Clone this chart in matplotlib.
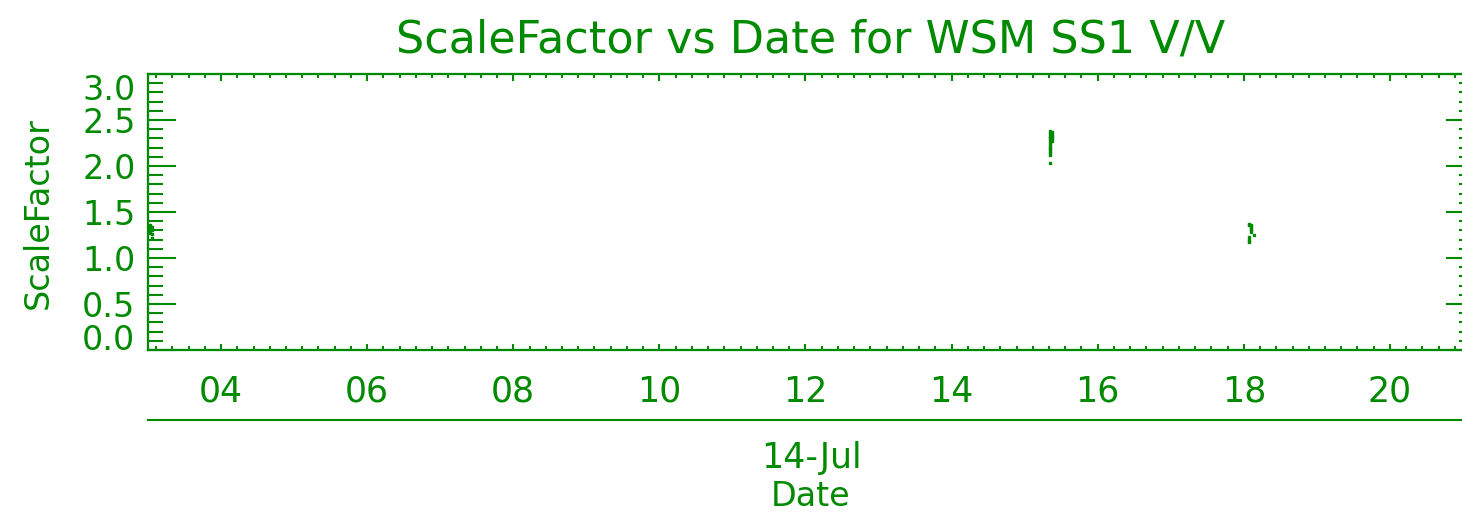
import numpy as np
import pandas as pd
import matplotlib
matplotlib.use("Agg")
import matplotlib.pyplot as plt
import matplotlib.dates as mdates
from matplotlib.ticker import MultipleLocator, FixedLocator

# Scale factor readings (WSM SS1, V/V polarisation)
obs_time = (
    ["2003-07-03 00:45"] * 4 + ["2003-07-03 01:20"] * 4
    + ["2003-07-15 08:24"] * 15
    + ["2003-07-15 09:05"] * 6
    + ["2003-07-18 01:40"] * 2 + ["2003-07-18 02:25"] * 5
    + ["2003-07-18 03:20"] + ["2003-07-18 01:40"] * 4
)
scale_factor = (
    [1.36, 1.33, 1.30, 1.27] + [1.34, 1.30, 1.26, 1.22]
    + [2.38, 2.36, 2.34, 2.32, 2.30, 2.28, 2.26, 2.24, 2.22, 2.20,
       2.18, 2.16, 2.14, 2.12, 2.03]
    + [2.37, 2.35, 2.33, 2.31, 2.29, 2.27]
    + [1.37, 1.36] + [1.36, 1.34, 1.32, 1.30, 1.28]
    + [1.25] + [1.23, 1.21, 1.19, 1.17]
)
day_ticks = [4, 6, 8, 10, 12, 14, 16, 18, 20]
y_ticks = [0.0, 0.5, 1.0, 1.5, 2.0, 2.5, 3.0]

green = "#008a00"
plt.rcParams["font.family"] = ["DejaVu Sans"]

t = mdates.date2num(pd.to_datetime(obs_time).to_pydatetime())
x0 = mdates.date2num(pd.Timestamp("2003-07-03"))
x1 = mdates.date2num(pd.Timestamp("2003-07-21"))
major_x = [mdates.date2num(pd.Timestamp(2003, 7, d)) for d in day_ticks]
minor_x = major_x[0] + np.arange(-4, 80) * (2.0 / 9.0)
minor_x = minor_x[(minor_x > x0) & (minor_x < x1)]

W, H = 1462, 520
fig = plt.figure(figsize=(W / 100, H / 100), dpi=100)
ax = fig.add_axes([148 / W, 1 - 350 / H, (1463 - 148) / W, 276 / H])

ax.plot(t, scale_factor, ls="none", marker="s", ms=1.6, color=green, mec=green)

ax.set_xlim(x0, x1)
ax.set_ylim(0, 3.0)
ax.xaxis.set_major_locator(FixedLocator(major_x))
ax.xaxis.set_minor_locator(FixedLocator(minor_x))
ax.xaxis.set_major_formatter(mdates.DateFormatter("%d"))
ax.set_yticks(y_ticks)
ax.yaxis.set_major_formatter(plt.FormatStrFormatter("%.1f"))
ax.yaxis.set_minor_locator(MultipleLocator(0.1))

ax.tick_params(axis="y", which="major", direction="in", length=20, width=1.5,
               color=green, labelcolor=green, labelsize=24, pad=9)
ax.tick_params(axis="y", which="minor", direction="in", length=10.8, width=1.5,
               color=green)
ax.tick_params(axis="x", which="major", direction="in", length=4.5, width=1.5,
               color=green, labelcolor=green, labelsize=25, pad=18)
ax.tick_params(axis="x", which="minor", direction="in", length=2.6, width=1.5,
               color=green)
for s in ax.spines.values():
    s.set_color(green)
    s.set_linewidth(1.5)

# keep the end labels inside the frame
fig.canvas.draw()
ylabels = ax.get_yticklabels()
ylabels[0].set_va("baseline")
ylabels[-1].set_va("top")

# right-hand ticks are shorter than the left ones
axr = ax.twinx()
axr.set_ylim(ax.get_ylim())
axr.set_yticks(y_ticks)
axr.yaxis.set_minor_locator(MultipleLocator(0.1))
axr.tick_params(axis="y", which="major", direction="in", length=12.2, width=1.5,
                color=green, labelright=False)
axr.tick_params(axis="y", which="minor", direction="in", length=3, width=1.5,
                color=green)

axt = ax.twiny()
axt.set_xlim(ax.get_xlim())
axt.xaxis.set_major_locator(FixedLocator(major_x))
axt.xaxis.set_minor_locator(FixedLocator(minor_x))
axt.tick_params(axis="x", which="major", direction="in", length=4.8, width=1.5,
                color=green, labeltop=False)
axt.tick_params(axis="x", which="minor", direction="in", length=2.6, width=1.5,
                color=green)
for a in (axr, axt):
    for s in a.spines.values():
        s.set_color(green)
        s.set_linewidth(1.5)

# second date level: month line below the day labels
sec = ax.secondary_xaxis(-70 / 276)
sec.set_xticks([])
sec.spines["bottom"].set_color(green)
sec.spines["bottom"].set_linewidth(1.5)

fig.text(811 / W, 1 - 40 / H, "ScaleFactor vs Date for WSM SS1 V/V",
         ha="center", va="center", color=green, fontsize=32)
fig.text(811 / W, 1 - 458 / H, "14-Jul", ha="center", va="center",
         color=green, fontsize=25)
fig.text(811 / W, 1 - 497 / H, "Date", ha="center", va="center",
         color=green, fontsize=24)
fig.text(38 / W, 1 - 213 / H, "ScaleFactor", ha="center", va="center",
         rotation=90, color=green, fontsize=24)

fig.savefig("out.png", dpi=100)
